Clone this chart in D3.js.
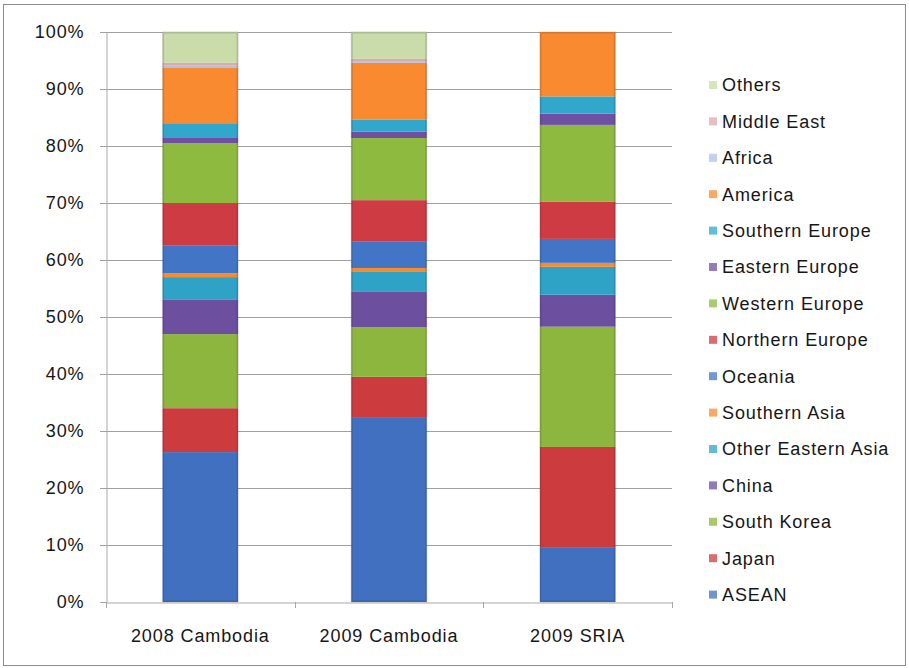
<!DOCTYPE html>
<html>
<head>
<meta charset="utf-8">
<script src="https://cdn.jsdelivr.net/npm/d3@7"></script>
<style>
  html, body { margin: 0; padding: 0; background: #ffffff; }
  svg { display: block; font-family: "Liberation Sans", Arial, sans-serif; }
</style>
</head>
<body>
<svg id="chart" width="909" height="668"></svg>
<script>
// Origin of visitors, share by region (percent)
const categories = ["2008 Cambodia", "2009 Cambodia", "2009 SRIA"];

// Series listed bottom of the stack first
const seriesNames = ["ASEAN", "Japan", "South Korea", "China", "Other Eastern Asia",
  "Southern Asia", "Oceania", "Northern Europe", "Western Europe", "Eastern Europe",
  "Southern Europe", "America", "Africa", "Middle East", "Others"];

const asean            = [26.3, 32.3, 9.5];
const japan            = [7.7, 7.2, 17.7];
const southKorea       = [13.0, 8.7, 21.1];
const china            = [6.0, 6.2, 5.6];
const otherEasternAsia = [4.0, 3.5, 4.9];
const southernAsia     = [0.7, 0.7, 0.7];
const oceania          = [4.9, 4.6, 4.2];
const northernEurope   = [7.4, 7.3, 6.5];
const westernEurope    = [10.5, 10.9, 13.5];
const easternEurope    = [0.9, 1.1, 2.0];
const southernEurope   = [2.6, 2.1, 3.0];
const america          = [9.7, 10.0, 11.3];
const africa           = [0.4, 0.3, 0.0];
const middleEast       = [0.5, 0.4, 0.0];
const others           = [5.4, 4.7, 0.0];

const yTicks = [0, 10, 20, 30, 40, 50, 60, 70, 80, 90, 100];

const seriesValues = [asean, japan, southKorea, china, otherEasternAsia, southernAsia,
  oceania, northernEurope, westernEurope, easternEurope, southernEurope, america,
  africa, middleEast, others];

const colors = ["#4270c0", "#cc3b3e", "#8db63e", "#6c4f9f", "#2fa3c6", "#f98b2e",
  "#4275c6", "#cf3b42", "#8fba40", "#7050a2", "#30a7cb", "#f98a30",
  "#a9c1e6", "#e2a8a8", "#c9dcaa"];

const FONT = "'Liberation Sans', Arial, sans-serif";
const TEXT_COLOR = "#161616";

// Build table rows for d3.stack
const rows = categories.map((c, i) => {
  const r = { category: c };
  seriesNames.forEach((s, k) => { r[s] = seriesValues[k][i]; });
  return r;
});
const stacked = d3.stack().keys(seriesNames)(rows);

const svg = d3.select("#chart");

// Outer frame
svg.append("rect")
  .attr("x", 3.5).attr("y", 4.5).attr("width", 902).attr("height", 661)
  .attr("fill", "#ffffff").attr("stroke", "#8c8c8c").attr("stroke-width", 1);

const plot = { left: 106, right: 672, top: 32, bottom: 602 };

const x = d3.scaleBand().domain(categories)
  .range([plot.left, plot.right]).paddingInner(0.6).paddingOuter(0.3);
const y = d3.scaleLinear().domain([0, 100]).range([plot.bottom, plot.top]);

// Horizontal gridlines
svg.append("g")
  .selectAll("line")
  .data(yTicks.filter(t => t > 0))
  .join("line")
  .attr("x1", plot.left - 6).attr("x2", plot.right)
  .attr("y1", d => Math.round(y(d)) + 0.5).attr("y2", d => Math.round(y(d)) + 0.5)
  .attr("stroke", "#a0a0a0").attr("stroke-width", 1);

// Y axis
const yAxis = d3.axisLeft(y).tickValues(yTicks).tickFormat(d => d + "%")
  .tickSize(6).tickPadding(16);
const gy = svg.append("g").attr("transform", `translate(${plot.left + 0.5},0)`).call(yAxis);
gy.select(".domain").attr("stroke", "#a8a8a8");
gy.selectAll(".tick line").attr("stroke", "#a0a0a0");
gy.selectAll(".tick text").attr("font-size", 18).attr("fill", TEXT_COLOR)
  .attr("letter-spacing", "0.9px").attr("font-family", FONT);

// Stacked bars
const layers = svg.append("g")
  .selectAll("g")
  .data(stacked)
  .join("g")
  .attr("fill", (d, i) => colors[i]);

layers.selectAll("rect")
  .data(d => d.map(p => ({ p, cat: p.data.category })))
  .join("rect")
  .attr("x", d => x(d.cat))
  .attr("width", x.bandwidth())
  .attr("y", d => y(d.p[1]))
  .attr("height", d => Math.max(0, y(d.p[0]) - y(d.p[1])));

// Soft darker edges on each bar
svg.append("g")
  .selectAll("rect")
  .data(categories)
  .join("rect")
  .attr("x", d => x(d) + 0.5).attr("y", y(100) + 0.5)
  .attr("width", x.bandwidth() - 1).attr("height", y(0) - y(100) - 1)
  .attr("fill", "none").attr("stroke", "rgba(40,40,60,0.18)").attr("stroke-width", 2);

// X axis
const xAxis = d3.axisBottom(x).tickSize(0).tickPadding(27);
const gx = svg.append("g").attr("transform", `translate(0,${plot.bottom + 0.5})`).call(xAxis);
gx.select(".domain").attr("stroke", "#a8a8a8");
gx.selectAll(".tick text").attr("font-size", 18).attr("fill", TEXT_COLOR)
  .attr("letter-spacing", "0.9px").attr("font-family", FONT);

// Tick marks between categories
const boundaries = d3.range(categories.length + 1)
  .map(i => plot.left + i * (plot.right - plot.left) / categories.length);
svg.append("g")
  .selectAll("line")
  .data(boundaries)
  .join("line")
  .attr("x1", d => Math.round(d) + 0.5).attr("x2", d => Math.round(d) + 0.5)
  .attr("y1", plot.bottom).attr("y2", plot.bottom + 6)
  .attr("stroke", "#a8a8a8");

// Legend, top entry is the top of the stack
const legendNames = seriesNames.slice().reverse();
const legendColors = colors.slice().reverse();
const legend = svg.append("g").attr("transform", "translate(709,85)");
const item = legend.selectAll("g")
  .data(legendNames)
  .join("g")
  .attr("transform", (d, i) => `translate(0,${i * 36.4})`);
item.append("rect")
  .attr("x", 0).attr("y", -4).attr("width", 8).attr("height", 8)
  .attr("fill", (d, i) => legendColors[i]).attr("opacity", 0.75);
item.append("text")
  .attr("x", 13).attr("y", 0).attr("dy", "0.35em")
  .attr("font-size", 18).attr("letter-spacing", "0.9px").attr("fill", TEXT_COLOR)
  .attr("font-family", FONT)
  .text(d => d);
</script>
</body>
</html>
